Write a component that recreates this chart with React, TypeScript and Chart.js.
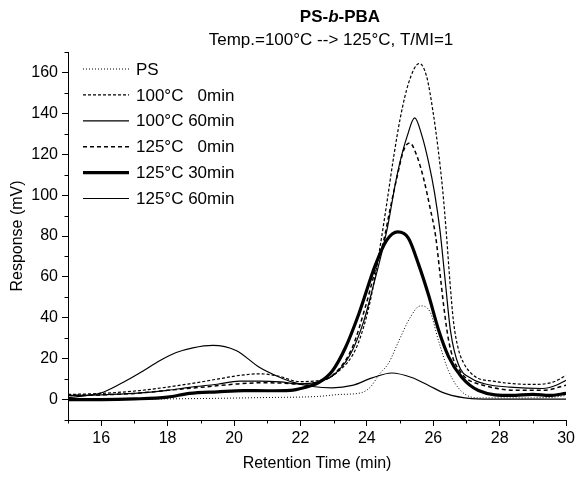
import React, { useEffect, useRef } from 'react';
import { Chart, registerables } from 'chart.js';

Chart.register(...registerables);

const FONT = "'Liberation Sans', Arial, Helvetica, sans-serif";

// ---- text ----
const TITLE_MAIN = ['PS-', 'b', '-PBA'];
const TITLE_SUB = 'Temp.=100°C --> 125°C, T/MI=1';
const X_TITLE = 'Retention Time (min)';
const Y_TITLE = 'Response (mV)';
const SERIES_LABELS = ['PS', '100°C   0min', '100°C 60min', '125°C   0min', '125°C 30min', '125°C 60min'];

// ---- axis ----
const X_MIN = 15;
const X_MAX = 30;
const Y_MIN = -10;
const Y_MAX = 170;

// ---- data: retention time (min) / response (mV) ----
const PS_T = [15, 17, 19, 21, 22.5, 23.2, 23.8, 24.1, 24.36, 24.66, 24.96, 25.3, 25.61, 25.9, 26.16, 26.46, 26.85, 27.36, 28.5, 29.5, 30];
const PS_V = [0, 0.2, 0.5, 1, 1.5, 2.5, 3.2, 6, 12, 18, 28.6, 40, 45.8, 43, 28.6, 14, 4, 0.8, 0.8, 1, 2];

const T100_0_T = [15, 16, 17.16, 18.66, 19.5, 20.16, 20.76, 21.36, 21.96, 22.56, 23.16, 23.7, 24.1, 24.4, 24.6, 24.81, 25.01, 25.26, 25.58, 25.8, 26.0, 26.15, 26.28, 26.4, 26.5, 26.61, 26.75, 26.91, 27.1, 27.36, 27.8, 28.3, 29.0, 29.6, 30];
const T100_0_V = [2.5, 3, 4.4, 7.7, 10, 11.8, 12.6, 11.4, 8.8, 9.3, 14, 26, 48, 75, 96, 119, 138, 155, 164.4, 158, 140, 122, 103, 80, 58, 38, 25, 18, 13.5, 10.3, 9, 7.9, 7.4, 8.5, 11.8];

const T100_60_T = [15, 16, 17, 18, 18.66, 19.5, 20.16, 20.8, 21.4, 21.96, 22.5, 23.0, 23.5, 23.9, 24.2, 24.45, 24.63, 24.86, 25.01, 25.21, 25.44, 25.66, 25.86, 26.04, 26.2, 26.36, 26.52, 26.76, 27.15, 27.6, 28.3, 29.3, 29.7, 30];
const T100_60_V = [2, 2.3, 3, 4.5, 6, 7.5, 9, 9, 8.6, 7.7, 8.5, 12, 22, 38, 56, 72, 85, 105.7, 117, 128.6, 137.8, 129, 116, 101, 83, 58, 33.5, 17, 10.3, 7.5, 6.1, 5.4, 7, 9.4];

const T125_0_T = [15, 16, 17, 18, 19, 20, 20.8, 21.5, 22, 22.5, 23.0, 23.55, 23.95, 24.25, 24.51, 24.71, 24.91, 25.11, 25.29, 25.51, 25.71, 25.9, 26.07, 26.2, 26.32, 26.45, 26.6, 26.8, 27.0, 27.5, 28.5, 29.3, 30];
const T125_0_V = [2, 2.3, 3, 4.5, 6, 7.5, 8.2, 8, 7.5, 8.5, 12.3, 25, 45, 63, 78, 94, 109, 122, 125.5, 119, 108, 94, 80, 62, 45, 30, 20, 14, 10.3, 7, 4.5, 4.5, 7];

const T125_30_T = [15, 16, 17, 18, 18.66, 19.5, 20.3, 21.0, 21.7, 22.1, 22.56, 22.96, 23.36, 23.76, 24.26, 24.6, 24.93, 25.25, 25.56, 25.86, 26.16, 26.46, 26.85, 27.36, 28.35, 29, 29.5, 30];
const T125_30_V = [0, 0, 0.3, 1.2, 3, 3.8, 4.4, 4.3, 4.5, 5.8, 8.4, 14, 25.6, 42, 66, 78, 82, 79, 66, 51, 34, 21, 11, 4.4, 2, 2.5, 2, 3];

const T125_60_T = [15, 15.5, 16.06, 16.76, 17.26, 17.76, 18.26, 18.76, 19.36, 20.06, 20.76, 21.36, 21.76, 22.36, 22.96, 23.56, 24.16, 24.75, 25.35, 25.86, 26.36, 27.15, 28, 30];
const T125_60_V = [1, 1.8, 3.6, 9.3, 14, 19, 23, 25.3, 26.5, 24, 15.8, 11, 8.5, 6.4, 5.7, 6.9, 10.6, 13, 10.8, 6.9, 3, 0.5, 0.2, 0.2];

const SERIES_T = [PS_T, T100_0_T, T100_60_T, T125_0_T, T125_30_T, T125_60_T];
const SERIES_V = [PS_V, T100_0_V, T100_60_V, T125_0_V, T125_30_V, T125_60_V];

// ---- styles ----
const STYLES = [
  { width: 1, dash: [1, 2] },
  { width: 1.2, dash: [3, 2] },
  { width: 1.2, dash: [] as number[] },
  { width: 1.5, dash: [4, 3] },
  { width: 3.2, dash: [] as number[] },
  { width: 1.2, dash: [] as number[] },
];

const overlayPlugin = {
  id: 'overlay',
  afterDraw(chart: any) {
    const ctx = chart.ctx as CanvasRenderingContext2D;
    const xs = chart.scales.x;
    const ys = chart.scales.y;
    const area = chart.chartArea;
    ctx.save();
    ctx.strokeStyle = '#000';
    ctx.fillStyle = '#000';
    ctx.lineWidth = 1;
    ctx.setLineDash([]);
    // minor ticks
    for (let v = X_MIN; v <= X_MAX; v += 1) {
      if (v % 2 === 0) continue;
      const px = Math.round(xs.getPixelForValue(v)) + 0.5;
      ctx.beginPath();
      ctx.moveTo(px, area.bottom);
      ctx.lineTo(px, area.bottom + 3.5);
      ctx.stroke();
    }
    for (let v = Y_MIN; v <= Y_MAX; v += 10) {
      if (v % 20 === 0 && v >= 0 && v <= 160) continue;
      const py = Math.round(ys.getPixelForValue(v)) + 0.5;
      ctx.beginPath();
      ctx.moveTo(area.left, py);
      ctx.lineTo(area.left - 3.5, py);
      ctx.stroke();
    }
    // legend
    chart.data.datasets.forEach((ds: any, i: number) => {
      const y = area.top + 17 + i * 25.9;
      ctx.save();
      ctx.lineWidth = ds.borderWidth;
      ctx.setLineDash(ds.borderDash || []);
      ctx.beginPath();
      ctx.moveTo(area.left + 15, y);
      ctx.lineTo(area.left + 61, y);
      ctx.stroke();
      ctx.restore();
      ctx.font = `17px ${FONT}`;
      ctx.textAlign = 'left';
      ctx.textBaseline = 'middle';
      ctx.fillText(ds.label, area.left + 68, y + 1);
    });
    // title
    ctx.textBaseline = 'alphabetic';
    ctx.textAlign = 'left';
    const fonts = [`bold 17px ${FONT}`, `italic bold 17px ${FONT}`, `bold 17px ${FONT}`];
    let total = 0;
    const widths = TITLE_MAIN.map((s, i) => {
      ctx.font = fonts[i];
      const w = ctx.measureText(s).width;
      total += w;
      return w;
    });
    let tx = 340 - total / 2;
    TITLE_MAIN.forEach((s, i) => {
      ctx.font = fonts[i];
      ctx.fillText(s, tx, 22);
      tx += widths[i];
    });
    ctx.font = `17px ${FONT}`;
    ctx.textAlign = 'center';
    ctx.fillText(TITLE_SUB, 331, 45);
    ctx.restore();
  },
};

export default function App() {
  const ref = useRef<HTMLCanvasElement | null>(null);
  useEffect(() => {
    const canvas = ref.current;
    if (!canvas) return;
    const datasets = SERIES_LABELS.map((label, i) => ({
      label,
      data: SERIES_T[i].map((t, j) => ({ x: t, y: SERIES_V[i][j] })),
      borderColor: '#000',
      backgroundColor: '#000',
      borderWidth: STYLES[i].width,
      borderDash: STYLES[i].dash,
      pointRadius: 0,
      fill: false,
      cubicInterpolationMode: 'monotone' as const,
    }));
    const chart = new Chart(canvas, {
      type: 'line',
      data: { datasets },
      options: {
        animation: false,
        responsive: false,
        devicePixelRatio: 1,
        font: { family: FONT },
        layout: { padding: { top: 52, right: 10, left: 0, bottom: 0 } },
        plugins: { legend: { display: false }, title: { display: false }, tooltip: { enabled: false } },
        scales: {
          x: {
            type: 'linear',
            min: X_MIN,
            max: X_MAX,
            afterFit: (s: any) => { s.height = 61; },
            border: { display: true, color: '#000', width: 1 },
            grid: {
              drawOnChartArea: false,
              drawTicks: true,
              tickLength: 6,
              tickWidth: 1,
              tickColor: (c: any) => (c.tick && c.tick.value % 2 === 0 ? '#000' : 'rgba(0,0,0,0)'),
            },
            ticks: {
              stepSize: 1,
              autoSkip: false,
              maxRotation: 0,
              padding: 3,
              color: '#000',
              font: { size: 16, family: FONT },
              callback: (v: any) => (Number(v) % 2 === 0 ? String(v) : ''),
            },
            title: { display: true, text: X_TITLE, color: '#000', font: { size: 16, family: FONT }, padding: { top: 0, bottom: 8 } },
          },
          y: {
            type: 'linear',
            min: Y_MIN,
            max: Y_MAX,
            afterFit: (s: any) => { s.width = 68; },
            border: { display: true, color: '#000', width: 1 },
            grid: {
              drawOnChartArea: false,
              drawTicks: true,
              tickLength: 6,
              tickWidth: 1,
              tickColor: (c: any) => (c.tick && c.tick.value % 20 === 0 && c.tick.value >= 0 && c.tick.value <= 160 ? '#000' : 'rgba(0,0,0,0)'),
            },
            ticks: {
              stepSize: 10,
              autoSkip: false,
              padding: 4,
              color: '#000',
              font: { size: 16, family: FONT },
              callback: (v: any) => {
                const n = Number(v);
                return n % 20 === 0 && n >= 0 && n <= 160 ? String(n) : '';
              },
            },
            title: { display: true, text: Y_TITLE, color: '#000', font: { size: 16, family: FONT }, padding: { top: 8, bottom: 0 } },
          },
        },
      },
      plugins: [overlayPlugin],
    });
    return () => chart.destroy();
  }, []);
  return (
    <div style={{ position: 'fixed', left: 0, top: 0, width: 578, height: 481, background: '#fff' }}>
      <canvas ref={ref} width={578} height={481} style={{ width: 578, height: 481, display: 'block' }} />
    </div>
  );
}
